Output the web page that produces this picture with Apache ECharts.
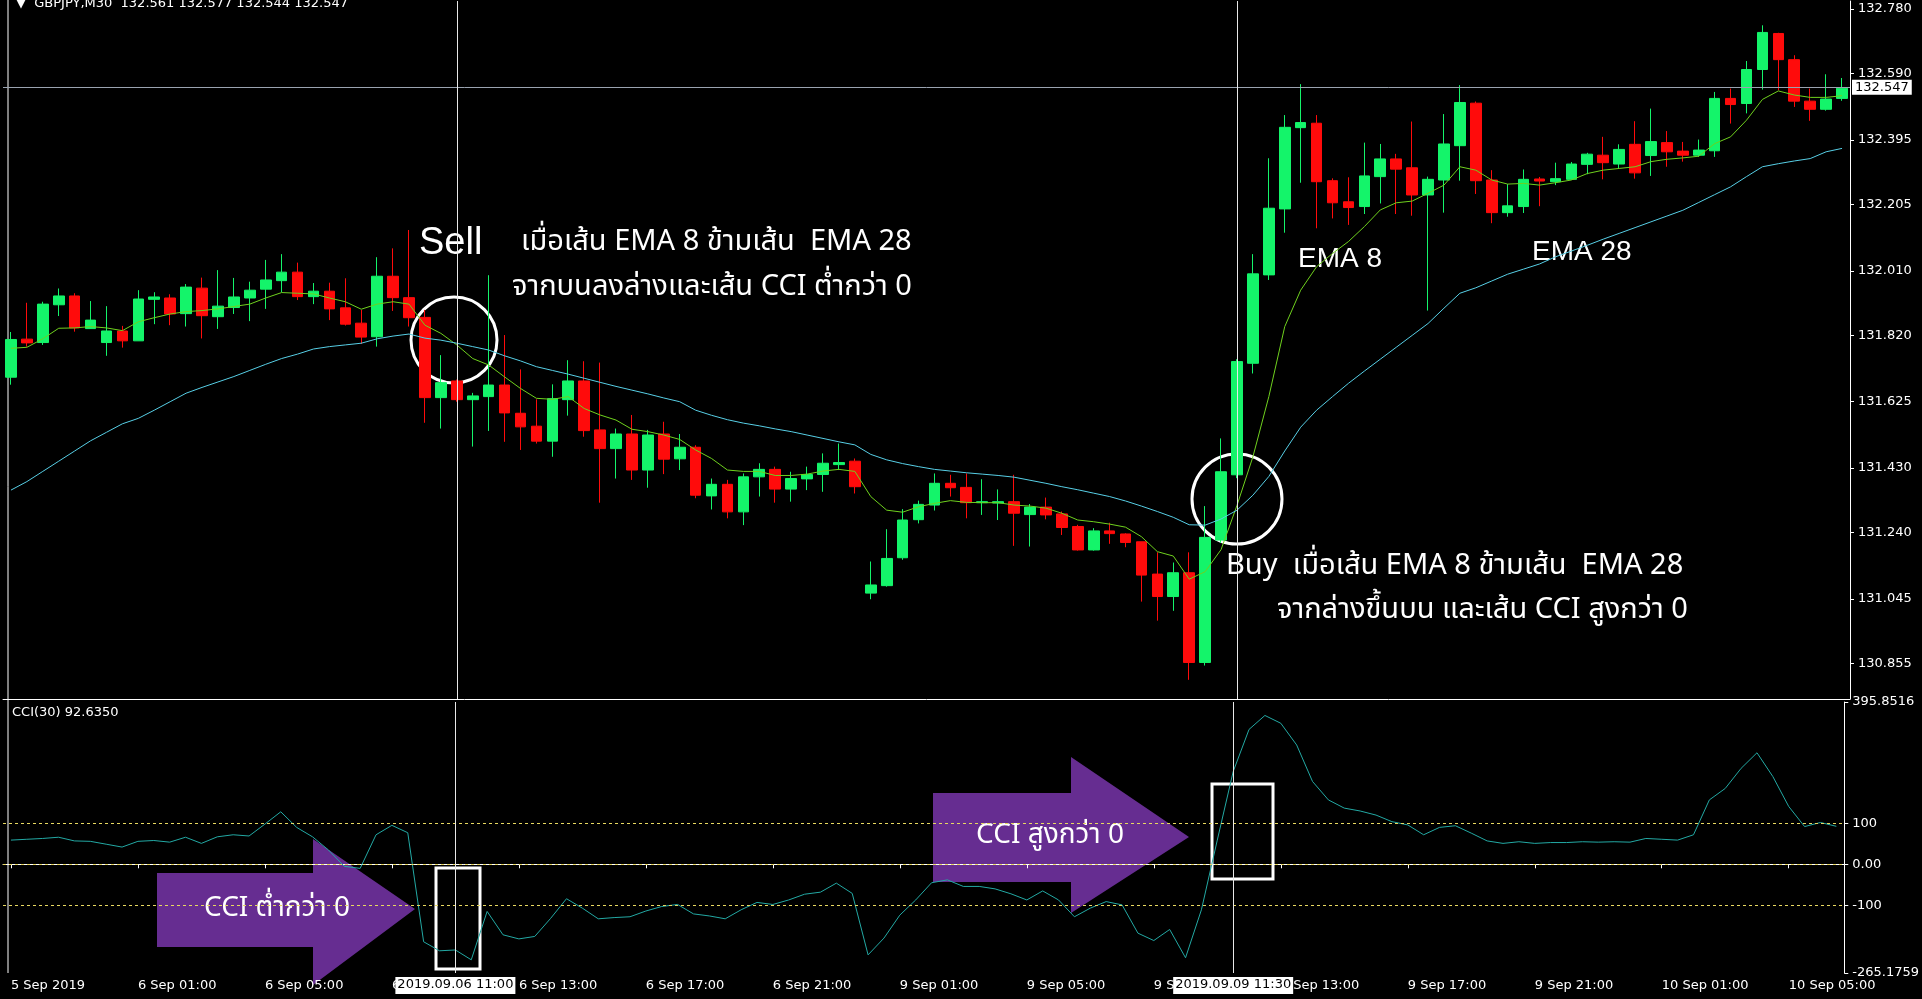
<!DOCTYPE html>
<html>
<head>
<meta charset="UTF-8">
<title>GBPJPY M30 EMA CCI</title>
<script src="https://cdn.jsdelivr.net/npm/echarts@6.0.0/dist/echarts.min.js"></script>
<style>
  html,body{margin:0;padding:0;background:#000;}
  #main{width:1922px;height:999px;}
</style>
</head>
<body>
<div id="main"></div>
<script>
// ข้อมูลแท่งเทียน GBPJPY M30 (อ่านจากภาพ)
var opens = [131.697,131.809,131.799,131.910,131.936,131.840,131.799,131.833,131.804,131.926,
  131.930,131.884,131.959,131.875,131.902,131.930,131.956,131.981,132.006,131.934,
  131.950,131.901,131.856,131.816,131.994,131.931,131.873,131.637,131.686,131.631,
  131.640,131.674,131.591,131.553,131.509,131.631,131.686,131.542,131.487,131.530,
  131.424,131.530,131.457,131.491,131.348,131.382,131.301,131.404,131.426,131.368,
  131.398,131.411,131.440,131.450,131.062,131.084,131.166,131.278,131.321,131.385,
  131.373,131.328,131.327,131.331,131.293,131.315,131.295,131.258,131.189,131.245,
  131.236,131.213,131.118,131.052,131.122,130.858,131.218,131.410,131.738,131.998,
  132.192,132.431,132.444,132.275,132.213,132.199,132.287,132.339,132.313,132.233,
  132.277,132.378,132.503,132.277,132.181,132.199,132.280,132.272,132.279,132.323,
  132.350,132.324,132.382,132.349,132.387,132.362,132.350,132.363,132.517,132.502,
  132.602,132.708,132.631,132.509,132.485,132.517];
var closes = [131.808,131.798,131.912,131.936,131.842,131.865,131.833,131.804,131.927,131.933,
  131.883,131.962,131.878,131.906,131.933,131.953,131.983,132.006,131.934,131.950,
  131.898,131.853,131.815,131.994,131.931,131.872,131.637,131.681,131.631,131.642,
  131.674,131.592,131.551,131.509,131.634,131.686,131.540,131.487,131.530,131.424,
  131.527,131.456,131.491,131.350,131.382,131.301,131.404,131.426,131.368,131.399,
  131.411,131.444,131.446,131.375,131.086,131.164,131.277,131.323,131.385,131.372,
  131.328,131.331,131.331,131.297,131.315,131.292,131.255,131.189,131.245,131.237,
  131.211,131.115,131.052,131.122,130.858,131.226,131.419,131.743,132.001,132.194,
  132.432,132.446,132.272,132.210,132.196,132.289,132.339,132.309,132.233,132.279,
  132.383,132.505,132.275,132.181,132.201,132.279,132.274,132.281,132.324,132.353,
  132.328,132.367,132.298,132.390,132.360,132.350,132.365,132.517,132.499,132.602,
  132.711,132.631,132.509,132.485,132.515,132.547];
var highs = [131.830,131.916,131.919,131.958,131.944,131.921,131.906,131.848,131.953,131.947,
  131.941,131.971,131.990,132.012,131.989,131.978,132.042,132.059,132.034,131.974,
  131.975,131.988,131.895,132.050,132.076,132.130,131.895,131.762,131.690,131.651,
  131.997,131.821,131.720,131.632,131.676,131.747,131.744,131.740,131.546,131.586,
  131.542,131.566,131.530,131.497,131.399,131.395,131.414,131.444,131.434,131.419,
  131.434,131.473,131.502,131.458,131.155,131.250,131.309,131.334,131.414,131.410,
  131.414,131.397,131.367,131.410,131.324,131.343,131.302,131.263,131.253,131.269,
  131.238,131.213,131.182,131.152,131.182,131.318,131.517,131.750,132.059,132.341,
  132.468,132.559,132.468,132.282,132.285,132.387,132.383,132.354,132.449,132.287,
  132.471,132.556,132.508,132.306,132.265,132.308,132.286,132.328,132.330,132.357,
  132.404,132.382,132.450,132.487,132.421,132.389,132.396,132.536,132.546,132.627,
  132.732,132.710,132.644,132.546,132.588,132.577];
var lows = [131.675,131.787,131.792,131.877,131.831,131.839,131.760,131.784,131.804,131.853,
  131.850,131.846,131.811,131.839,131.883,131.862,131.898,131.947,131.924,131.912,
  131.865,131.849,131.795,131.787,131.892,131.846,131.563,131.546,131.625,131.493,
  131.539,131.507,131.483,131.502,131.463,131.584,131.522,131.328,131.399,131.395,
  131.372,131.412,131.424,131.341,131.308,131.282,131.262,131.346,131.328,131.331,
  131.365,131.360,131.424,131.355,131.044,131.081,131.160,131.267,131.305,131.346,
  131.282,131.292,131.277,131.201,131.199,131.279,131.233,131.187,131.187,131.207,
  131.197,131.037,130.981,131.010,130.807,130.849,131.210,131.400,131.708,131.983,
  132.122,132.269,132.135,132.164,132.145,132.177,132.208,132.177,132.172,131.893,
  132.181,132.275,132.236,132.150,132.169,132.180,132.200,132.262,132.277,132.294,
  132.279,132.311,132.281,132.289,132.316,132.331,132.345,132.345,132.443,132.473,
  132.543,132.541,132.492,132.451,132.481,132.510];
var ema8 = [131.782,131.785,131.810,131.841,131.842,131.846,131.842,131.834,131.860,131.872,
  131.883,131.890,131.893,131.898,131.905,131.912,131.930,131.946,131.944,131.942,
  131.930,131.919,131.897,131.912,131.919,131.912,131.850,131.826,131.792,131.752,
  131.733,131.698,131.664,131.635,131.632,131.640,131.605,131.586,131.571,131.544,
  131.537,131.527,131.514,131.483,131.458,131.424,131.420,131.420,131.408,131.408,
  131.412,131.421,131.426,131.420,131.346,131.306,131.300,131.316,131.326,131.334,
  131.329,131.328,131.328,131.321,131.318,131.312,131.297,131.277,131.272,131.265,
  131.256,131.228,131.184,131.171,131.103,131.125,131.190,131.320,131.463,131.640,
  131.846,131.953,132.022,132.061,132.096,132.140,132.189,132.210,132.215,132.238,
  132.262,132.316,132.306,132.277,132.265,132.267,132.262,132.269,132.277,132.296,
  132.306,132.311,132.316,132.331,132.338,132.342,132.347,132.384,132.404,132.453,
  132.514,132.539,132.527,132.520,132.520,132.525];
var ema28 = [131.365,131.390,131.420,131.450,131.480,131.510,131.535,131.560,131.576,131.600,
  131.625,131.650,131.667,131.683,131.699,131.717,131.735,131.752,131.765,131.780,
  131.787,131.792,131.797,131.810,131.818,131.824,131.812,131.806,131.797,131.787,
  131.777,131.760,131.745,131.728,131.717,131.706,131.694,131.682,131.670,131.659,
  131.648,131.636,131.625,131.600,131.585,131.572,131.562,131.554,131.545,131.537,
  131.527,131.517,131.507,131.498,131.470,131.454,131.443,131.434,131.426,131.421,
  131.416,131.412,131.408,131.403,131.394,131.385,131.375,131.366,131.356,131.346,
  131.333,131.318,131.302,131.285,131.263,131.262,131.280,131.306,131.350,131.405,
  131.480,131.550,131.600,131.640,131.679,131.715,131.750,131.785,131.820,131.855,
  131.900,131.944,131.960,131.980,132.000,132.015,132.030,132.051,132.068,132.085,
  132.103,132.120,132.137,132.154,132.171,132.188,132.211,132.234,132.257,132.287,
  132.316,132.325,132.333,132.340,132.360,132.370];
var cci30 = [59,61,63,66,57,56,49,42,56,58,
  54,66,51,67,72,69,98,128,90,67,
  35,-5,-10,72,95,77,-189,-211,-209,-233,
  -115,-172,-182,-176,-132,-84,-107,-133,-130,-128,
  -114,-103,-98,-121,-126,-133,-111,-93,-98,-87,
  -73,-68,-46,-71,-221,-180,-124,-87,-45,-38,
  -54,-54,-60,-72,-87,-65,-87,-128,-107,-91,
  -99,-168,-186,-159,-228,-111,59,226,329,363,
  344,291,202,157,137,130,120,104,96,72,
  90,94,76,57,51,55,51,53,53,55,
  54,55,54,63,61,59,72,157,185,234,
  272,214,141,92,102,92.635];
var priceTicks = [132.780,132.590,132.395,132.205,132.010,131.820,131.625,131.430,131.240,131.045,130.855];
var cciTicks = [395.8516,100,0,-100,-265.1759];
var cciLevels = [100,0,-100];
var lastPrice = '132.547';

// เวลาแท่ง: 5 Sep 21:00 ถึง 6 Sep 23:30 แล้วต่อด้วย 9 Sep 00:00
var times = [];
(function(){
  var d = 5, m = 21*60;
  for (var i = 0; i < opens.length; i++) {
    var hh = Math.floor(m/60), mm = m%60;
    times.push(d + ' Sep ' + (hh<10?'0':'') + hh + ':' + (mm<10?'0':'') + mm);
    m += 30;
    if (m >= 1440) { m -= 1440; d = (d == 6) ? 9 : d + 1; }
  }
})();
var tickIdx = [0,8,16,24,32,40,48,56,64,72,80,88,96,104,112];
var crossBars = [28,77];
var crossLabels = ['2019.09.06 11:00','2019.09.09 11:30'];

var candles = [];
for (var i = 0; i < opens.length; i++) candles.push([opens[i], closes[i], lows[i], highs[i]]);

var myChart = echarts.init(document.getElementById('main'));
var axisFont = {color:'#fff', fontFamily:'Tahoma, DejaVu Sans, sans-serif', fontSize:13};

var option = {
  backgroundColor:'#000',
  animation:false,
  grid:[
    {left:3, right:72, top:1, height:698},
    {left:3, right:72, top:702, height:271}
  ],
  xAxis:[
    {type:'category', gridIndex:0, data:times, boundaryGap:true,
     axisLine:{lineStyle:{color:'#fff'}}, axisTick:{show:false}, axisLabel:{show:false}, splitLine:{show:false}},
    {type:'category', gridIndex:1, data:times, boundaryGap:true,
     axisLine:{lineStyle:{color:'#fff'}},
     axisTick:{show:true, alignWithLabel:true, length:4, lineStyle:{color:'#fff'},
       interval:function(i){ return tickIdx.indexOf(i) >= 0; }},
     axisLabel:Object.assign({}, axisFont, {align:'left', margin:6,
       interval:function(i){ return tickIdx.indexOf(i) >= 0; },
       formatter:function(v, i){ return i === 0 ? '5 Sep 2019' : v; }}),
     splitLine:{show:false}}
  ],
  yAxis:[
    {type:'value', gridIndex:0, position:'right', min:130.7506, max:132.8035, scale:true,
     axisLine:{show:true, lineStyle:{color:'#fff'}},
     axisTick:{show:true, length:4, lineStyle:{color:'#fff'}, customValues:priceTicks},
     axisLabel:Object.assign({}, axisFont, {margin:8, customValues:priceTicks,
       formatter:function(v){ return v.toFixed(3); }}),
     splitLine:{show:false}},
    {type:'value', gridIndex:1, position:'right', min:-265.1759, max:395.8516,
     axisLine:{show:true, lineStyle:{color:'#fff'}},
     axisTick:{show:true, length:4, lineStyle:{color:'#fff'}, customValues:cciTicks},
     axisLabel:Object.assign({}, axisFont, {margin:8, customValues:cciTicks,
       formatter:function(v){ return v === 0 ? '0.00' : String(v); }}),
     splitLine:{show:false}}
  ],
  series:[
    {name:'GBPJPY', type:'candlestick', xAxisIndex:0, yAxisIndex:0, data:candles, barWidth:'70%',
     itemStyle:{color:'#14f46a', color0:'#ff0b0b', borderColor:'#14f46a', borderColor0:'#ff0b0b', borderWidth:1},
     markLine:{symbol:'none', silent:true, animation:false,
       lineStyle:{color:'#9aa3b0', type:'solid', width:1},
       label:{position:'end', color:'#000', backgroundColor:'#fff', padding:[1,3], fontSize:13, distance:2,
         fontFamily:'Tahoma, DejaVu Sans, sans-serif', formatter:function(){ return lastPrice; }},
       data:[{yAxis:parseFloat(lastPrice)}].concat(crossBars.map(function(b){
         return {xAxis:b, label:{show:false}, lineStyle:{color:'#e8e8e8'}};
       }))}},
    {name:'EMA 8', type:'line', xAxisIndex:0, yAxisIndex:0, data:ema8, symbol:'none',
     lineStyle:{color:'#6fd11e', width:1}},
    {name:'EMA 28', type:'line', xAxisIndex:0, yAxisIndex:0, data:ema28, symbol:'none',
     lineStyle:{color:'#57cfe6', width:1}},
    {name:'CCI(30)', type:'line', xAxisIndex:1, yAxisIndex:1, data:cci30, symbol:'none',
     lineStyle:{color:'#23a9a4', width:1},
     markLine:{symbol:'none', silent:true, animation:false, label:{show:false},
       data:cciLevels.map(function(v){ return {yAxis:v, lineStyle:{color:'#e8d860', type:[3,3], width:1}}; })
         .concat(crossBars.map(function(b){ return {xAxis:b, lineStyle:{color:'#e8e8e8', type:'solid', width:1}}; }))}}
  ]
};
myChart.setOption(option);

// ป้ายข้อความ ลูกศร และกรอบ
var thai = 'Noto Sans Thai, Tahoma, Noto Sans, DejaVu Sans, sans-serif';
var g = [
  {type:'line', shape:{x1:8, y1:0, x2:8, y2:973}, style:{stroke:'#fff', lineWidth:1}},
  {type:'text', left:16, top:-3, style:{text:'▼  GBPJPY,M30  132.561 132.577 132.544 132.547', fill:'#fff', font:'13px Tahoma, DejaVu Sans, sans-serif'}},
  {type:'text', left:12, top:706, style:{text:'CCI(30) 92.6350', fill:'#fff', font:'13px Tahoma, DejaVu Sans, sans-serif'}},
  {type:'circle', shape:{cx:454, cy:340, r:43}, style:{fill:'none', stroke:'#fff', lineWidth:3}},
  {type:'circle', shape:{cx:1237, cy:499, r:45}, style:{fill:'none', stroke:'#fff', lineWidth:3}},
  {type:'text', x:419, y:225, style:{text:'Sell', fill:'#fff', font:'38px Arial, Liberation Sans, sans-serif'}},
  {type:'text', x:521, y:230, style:{text:'เมื่อเส้น EMA 8 ข้ามเส้น  EMA 28', fill:'#fff', font:'29px ' + thai}},
  {type:'text', x:512, y:275, style:{text:'จากบนลงล่างและเส้น CCI ต่ำกว่า 0', fill:'#fff', font:'29px ' + thai}},
  {type:'text', x:1298, y:245, style:{text:'EMA 8', fill:'#fff', font:'28px Arial, Liberation Sans, sans-serif'}},
  {type:'text', x:1532, y:238, style:{text:'EMA 28', fill:'#fff', font:'28px Arial, Liberation Sans, sans-serif'}},
  {type:'text', x:1226, y:554, style:{text:'Buy  เมื่อเส้น EMA 8 ข้ามเส้น  EMA 28', fill:'#fff', font:'29px ' + thai}},
  {type:'text', x:1277, y:598, style:{text:'จากล่างขึ้นบน และเส้น CCI สูงกว่า 0', fill:'#fff', font:'29px ' + thai}},
  {type:'polygon', shape:{points:[[157,873],[313,873],[313,839],[415,909],[313,985],[313,947],[157,947]]},
   style:{fill:'#662d91'}},
  {type:'text', x:277, y:910, style:{text:'CCI ต่ำกว่า 0', fill:'#fff', font:'28px ' + thai, align:'center', verticalAlign:'middle'}},
  {type:'polygon', shape:{points:[[933,793],[1071,793],[1071,757],[1189,837],[1071,913],[1071,882],[933,882]]},
   style:{fill:'#662d91'}},
  {type:'text', x:1050, y:837, style:{text:'CCI สูงกว่า 0', fill:'#fff', font:'28px ' + thai, align:'center', verticalAlign:'middle'}},
  {type:'rect', shape:{x:436, y:868, width:44, height:101}, style:{fill:'none', stroke:'#fff', lineWidth:3}},
  {type:'rect', shape:{x:1212, y:784, width:61, height:95}, style:{fill:'none', stroke:'#fff', lineWidth:3}}
];
crossBars.forEach(function(b, k){
  var px = myChart.convertToPixel({xAxisIndex:1}, b);
  g.push({type:'rect', shape:{x:px-60, y:977, width:120, height:17}, style:{fill:'#fff'}, z:100});
  g.push({type:'text', x:px, y:985, z:101, style:{text:crossLabels[k], fill:'#000', align:'center', verticalAlign:'middle',
    font:'13px Tahoma, DejaVu Sans, sans-serif'}});
});
myChart.setOption({graphic:g});
</script>
</body>
</html>
